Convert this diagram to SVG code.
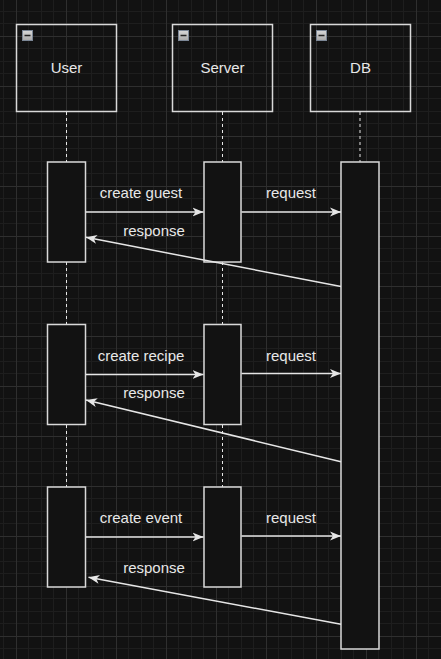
<svg xmlns="http://www.w3.org/2000/svg" width="441" height="659" viewBox="0 0 441 659">
<defs>
<pattern id="grid" patternUnits="userSpaceOnUse" x="16" y="36" width="50" height="50">
<rect width="50" height="50" fill="#121212"/>
<rect x="12" y="0" width="1" height="50" fill="#1e1e1e"/>
<rect x="25" y="0" width="1" height="50" fill="#1e1e1e"/>
<rect x="37" y="0" width="1" height="50" fill="#1e1e1e"/>
<rect x="0" y="12" width="50" height="1" fill="#1e1e1e"/>
<rect x="0" y="25" width="50" height="1" fill="#1e1e1e"/>
<rect x="0" y="37" width="50" height="1" fill="#1e1e1e"/>
<rect x="0" y="0" width="1" height="50" fill="#2f2f2f"/>
<rect x="0" y="0" width="50" height="1" fill="#2f2f2f"/>
</pattern>
<linearGradient id="iconGrad" x1="0" y1="0" x2="0" y2="1">
<stop offset="0" stop-color="#d8d8d8"/>
<stop offset="1" stop-color="#a8a8a8"/>
</linearGradient>
<marker id="arrow" viewBox="0 0 11 10" refX="11" refY="5" markerWidth="11" markerHeight="10" markerUnits="userSpaceOnUse" orient="auto">
<path d="M0,0.5 L11,5 L0,9.5 L3,5 Z" fill="#e6e6e6"/>
</marker>
<style>
.head{fill:none;stroke:#d9d9d9;stroke-width:1.5}
.act{fill:#121212;stroke:#d9d9d9;stroke-width:1.5}
.life{stroke:#e6e6e6;stroke-width:1;stroke-dasharray:3 3;fill:none}
.icon{fill:url(#iconGrad);stroke:#7c8796;stroke-width:1}
.dash{stroke:#222;stroke-width:1.5}
.lbl{font-family:"Liberation Sans",Arial,sans-serif;font-size:15px;fill:#e8e8e8;text-anchor:middle}
.msg{stroke:#e6e6e6;stroke-width:1.5;fill:none;marker-end:url(#arrow)}
</style>
</defs>
<rect width="441" height="659" fill="url(#grid)"/>

<g id="user">
<rect class="head" x="16.5" y="24.5" width="100" height="87"/>
<rect class="icon" x="22.5" y="30.5" width="10" height="10"/>
<line class="dash" x1="24.5" y1="35.5" x2="30.5" y2="35.5"/>
<text class="lbl" x="66.5" y="73">User</text>
<line class="life" x1="66.5" y1="112" x2="66.5" y2="162"/>
<line class="life" x1="66.5" y1="262" x2="66.5" y2="324"/>
<line class="life" x1="66.5" y1="425" x2="66.5" y2="487"/>
</g>
<g id="server">
<rect class="head" x="172.5" y="24.5" width="100" height="87"/>
<rect class="icon" x="178.5" y="30.5" width="10" height="10"/>
<line class="dash" x1="180.5" y1="35.5" x2="186.5" y2="35.5"/>
<text class="lbl" x="222.5" y="73">Server</text>
<line class="life" x1="222.5" y1="112" x2="222.5" y2="162"/>
<line class="life" x1="222.5" y1="262" x2="222.5" y2="324"/>
<line class="life" x1="222.5" y1="425" x2="222.5" y2="487"/>
</g>
<g id="db">
<rect class="head" x="310.5" y="24.5" width="100" height="87"/>
<rect class="icon" x="316.5" y="30.5" width="10" height="10"/>
<line class="dash" x1="318.5" y1="35.5" x2="324.5" y2="35.5"/>
<text class="lbl" x="360.5" y="73">DB</text>
<line class="life" x1="360" y1="112" x2="360" y2="162"/>
</g>

<g id="user-act-1"><rect class="act" x="47.5" y="162" width="38" height="100"/></g>
<g id="user-act-2"><rect class="act" x="47.5" y="324.5" width="38" height="100"/></g>
<g id="user-act-3"><rect class="act" x="47.5" y="487" width="38" height="100"/></g>
<g id="server-act-1"><rect class="act" x="204" y="162" width="37" height="100"/></g>
<g id="server-act-2"><rect class="act" x="204" y="324.5" width="37" height="100"/></g>
<g id="server-act-3"><rect class="act" x="204" y="487" width="37" height="100"/></g>
<g id="db-act"><rect class="act" x="341" y="162" width="38" height="487"/></g>

<g id="connectors">
<line class="msg" x1="86" y1="212" x2="203.5" y2="212"/>
<line class="msg" x1="241.5" y1="212" x2="341" y2="212"/>
<line class="msg" x1="341" y1="286.5" x2="86" y2="237.3"/>
<line class="msg" x1="86" y1="374.5" x2="203.5" y2="374.5"/>
<line class="msg" x1="241.5" y1="373.5" x2="341" y2="373.5"/>
<line class="msg" x1="341" y1="461.7" x2="86" y2="400"/>
<line class="msg" x1="86" y1="537" x2="203.5" y2="537"/>
<line class="msg" x1="241.5" y1="536" x2="341" y2="536"/>
<line class="msg" x1="341" y1="624.3" x2="88.5" y2="577.3"/>
<text class="lbl" x="141" y="198">create guest</text>
<text class="lbl" x="291" y="198">request</text>
<text class="lbl" x="154" y="236">response</text>
<text class="lbl" x="141" y="361">create recipe</text>
<text class="lbl" x="291" y="361">request</text>
<text class="lbl" x="154" y="398">response</text>
<text class="lbl" x="141" y="523">create event</text>
<text class="lbl" x="291" y="523">request</text>
<text class="lbl" x="154" y="573">response</text>
</g>
</svg>
